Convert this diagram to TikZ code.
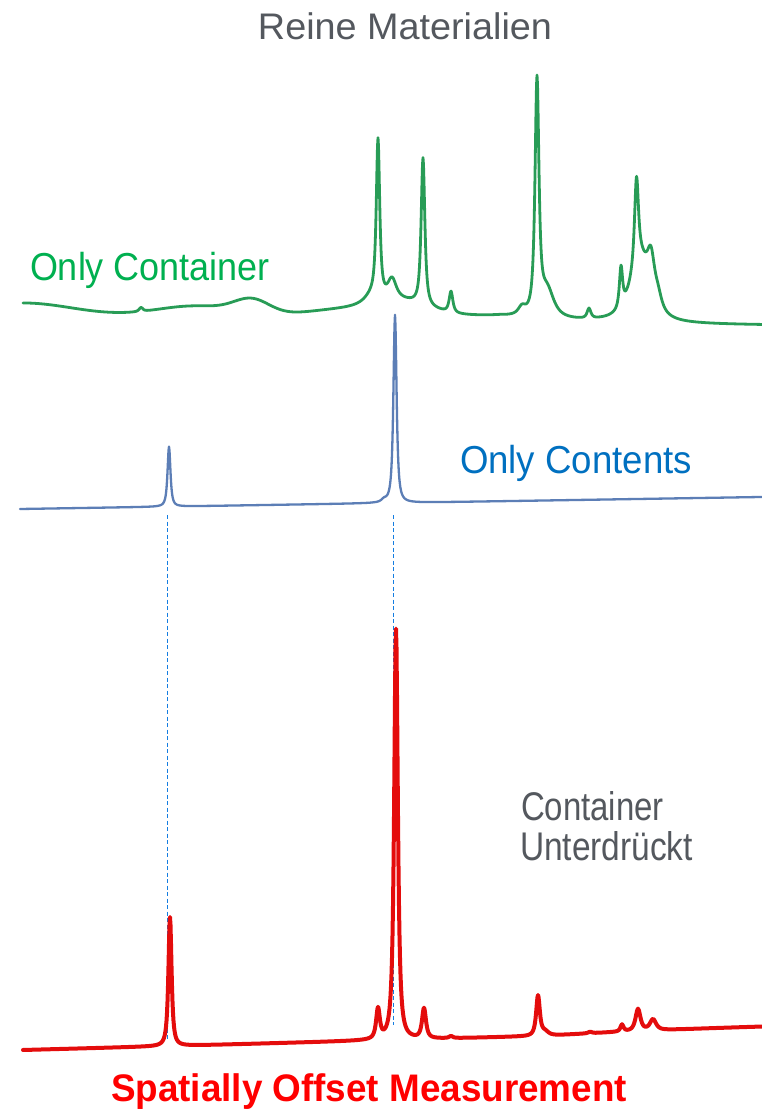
\documentclass[tikz,border=0pt]{standalone}
\usepackage{fontspec}
\usepackage{graphicx}
\newfontfamily\lab{Liberation Sans}
\definecolor{txtgray}{RGB}{84,88,94}
\definecolor{txtgreen}{RGB}{0,176,80}
\definecolor{txtblue}{RGB}{0,112,192}
\definecolor{txtred}{RGB}{255,0,0}
\definecolor{specgreen}{RGB}{40,156,86}
\definecolor{specblue}{RGB}{92,126,182}
\definecolor{specred}{RGB}{228,12,12}
\definecolor{dashblue}{RGB}{20,125,225}
\tikzset{
  spec/.style={line join=round, line cap=round},
  gspec/.style={spec, draw=specgreen, line width=2.8pt},
  bspec/.style={spec, draw=specblue, line width=2.3pt},
  rspec/.style={spec, draw=specred, line width=4pt},
  guide/.style={draw=dashblue, line width=1.2pt, dash pattern=on 4pt off 2.5pt},
  lbl/.style={inner sep=0pt, outer sep=0pt},
}
\begin{document}
\begin{tikzpicture}[x=1pt,y=-1pt,
  declare function={
    lz(\rr)=1/(1+min(abs(\rr),100)^2);
    pk(\pp,\cc,\ww,\hh)=\hh*(0.3*lz((\pp-\cc)/\ww)+0.7*lz((\pp-\cc)/\ww)^2);
    gs(\pp,\cc,\ww)=exp(-min(abs((\pp-\cc)/\ww)^2,9));
    gr(\pp)=316+10*(1-exp(-max(\pp-500,0)/120))
      -13*gs(\pp,23,70)-10*gs(\pp,195,55)-14*gs(\pp,252,25)
      -6*gs(\pp,340,50)-14*gs(\pp,400,40)
      -pk(\pp,141,3,4)-pk(\pp,372,12,8)-pk(\pp,378,2.8,157)
      -pk(\pp,392,7,20)-pk(\pp,423,3,147)-pk(\pp,451,3,21)
      -pk(\pp,522,6,8)-pk(\pp,537,3.2,232)-pk(\pp,547,11,28)
      -pk(\pp,589,3,10)-pk(\pp,621,2.6,40)-pk(\pp,640,16,62)
      -pk(\pp,636.5,3.2,86)-pk(\pp,651,6,40)-pk(\pp,658,6,12);
    bl(\pp)=509-0.0162*(\pp-20)-pk(\pp,169,2.4,60)-pk(\pp,384,4,2.5)-pk(\pp,395,2.6,188);
    rd(\pp)=1050-0.027*(\pp-23)-4*(1-exp(-max(\pp-550,0)/100))
      -pk(\pp,170,2.6,129)-pk(\pp,378,3,30)-pk(\pp,396,3,411)
      -pk(\pp,424,3.2,30)-pk(\pp,451,3,2)-pk(\pp,538,3,40)
      -pk(\pp,545,6,4)-pk(\pp,590,3,1.5)-pk(\pp,622,2.5,7)
      -pk(\pp,638,4,22)-pk(\pp,653,5,11);
  }]
\fill[white] (0,0) rectangle (761,1112);
\useasboundingbox (0,0) rectangle (761,1112);

% title and labels
\node[lbl, anchor=base, text=txtgray, font={\lab\fontsize{37pt}{44pt}\selectfont}] (title) at (405,39) {\resizebox{294pt}{\height}{Reine Materialien}};
\node[lbl, anchor=base west, text=txtgreen, font={\lab\fontsize{39pt}{46pt}\selectfont}] (lcont) at (30,280) {\resizebox{240pt}{\height}{Only Container}};
\node[lbl, anchor=base west, text=txtblue, font={\lab\fontsize{39pt}{46pt}\selectfont}] (lcnts) at (460,473) {\resizebox{232pt}{\height}{Only Contents}};
\node[lbl, anchor=base west, text=txtgray, font={\lab\fontsize{40pt}{46pt}\selectfont}] (lsup1) at (521,820) {\resizebox{143pt}{\height}{Container}};
\node[lbl, anchor=base west, text=txtgray, font={\lab\fontsize{40pt}{46pt}\selectfont}] (lsup2) at (520,860) {\resizebox{173pt}{\height}{Unterdrückt}};
\node[lbl, anchor=base west, text=txtred, font={\lab\bfseries\fontsize{38.4pt}{46pt}\selectfont}] (lsom) at (111,1101) {\resizebox{516pt}{\height}{Spatially Offset Measurement}};

% guide lines
\coordinate (gA1) at (167.5,515);
\coordinate (gA2) at (167.5,1040);
\coordinate (gB1) at (393.7,515);
\coordinate (gB2) at (393.7,1025);
\draw[guide] (gA1) -- (gA2);
\draw[guide] (gB1) -- (gB2);

% green spectrum: only container
\draw[gspec]
  plot[domain=23:363,samples=341] (\x,{gr(\x)})
  -- plot[domain=363:463,samples=201] (\x,{gr(\x)})
  -- plot[domain=463:527,samples=65] (\x,{gr(\x)})
  -- plot[domain=527:547,samples=41] (\x,{gr(\x)})
  -- plot[domain=547:611,samples=65] (\x,{gr(\x)})
  -- plot[domain=611:645,samples=69] (\x,{gr(\x)})
  -- plot[domain=645:762,samples=118] (\x,{gr(\x)});

% blue spectrum: only contents
\draw[bspec]
  plot[domain=20:160,samples=71] (\x,{bl(\x)})
  -- plot[domain=160:178,samples=37] (\x,{bl(\x)})
  -- plot[domain=178:376,samples=100] (\x,{bl(\x)})
  -- plot[domain=376:412,samples=73] (\x,{bl(\x)})
  -- plot[domain=412:762,samples=176] (\x,{bl(\x)});

% red spectrum: spatially offset
\draw[rspec]
  plot[domain=23:160,samples=138] (\x,{rd(\x)})
  -- plot[domain=160:180,samples=41] (\x,{rd(\x)})
  -- plot[domain=180:370,samples=191] (\x,{rd(\x)})
  -- plot[domain=370:432,samples=125] (\x,{rd(\x)})
  -- plot[domain=432:530,samples=99] (\x,{rd(\x)})
  -- plot[domain=530:546,samples=33] (\x,{rd(\x)})
  -- plot[domain=546:762,samples=217] (\x,{rd(\x)});
\end{tikzpicture}
\end{document}
